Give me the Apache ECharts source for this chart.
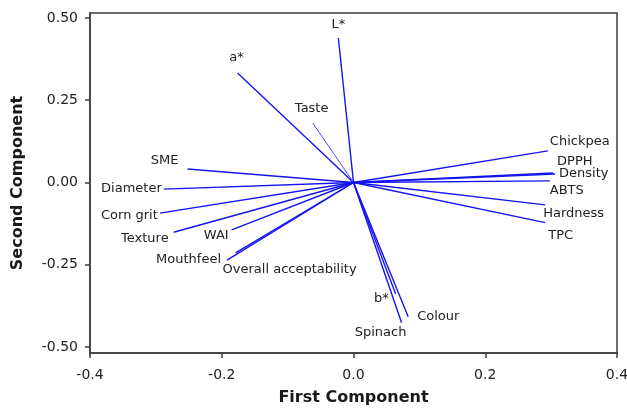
<!DOCTYPE html>
<html>
<head>
<meta charset="utf-8">
<script src="https://cdn.jsdelivr.net/npm/echarts@6/dist/echarts.min.js"></script>
<style>
  html, body { margin: 0; padding: 0; background: #fff; }
  #chart { width: 627px; height: 408px; }
</style>
</head>
<body>
<div id="chart"></div>
<script>
// loadings
const names = ["L*", "a*", "Taste", "SME", "Diameter", "Corn grit", "Texture", "WAI",
  "Mouthfeel", "Overall acceptability", "Chickpea", "DPPH", "Density", "ABTS",
  "Hardness", "TPC", "b*", "Spinach", "Colour"];
const pc1 = [-0.023, -0.176, -0.062, -0.252, -0.288, -0.294, -0.273, -0.185,
  -0.192, -0.179, 0.295, 0.303, 0.306, 0.298, 0.291, 0.291, 0.064, 0.073, 0.083];
const pc2 = [0.439, 0.333, 0.181, 0.041, -0.020, -0.093, -0.151, -0.144,
  -0.236, -0.214, 0.096, 0.029, 0.026, 0.005, -0.068, -0.122, -0.339, -0.426, -0.408];
const xTicks = [-0.4, -0.2, 0.0, 0.2, 0.4];
const yTicks = [-0.5, -0.25, 0, 0.25, 0.5];

// where each label sits relative to the end of its line: [align, dx, dy]
const labelPlace = {
  "L*": ["center", 0, -13],
  "a*": ["center", -1, -15],
  "Taste": ["center", -1, -14],
  "SME": ["right", -9, -8],
  "Diameter": ["right", -2, 0],
  "Corn grit": ["right", -2, 3],
  "Texture": ["right", -5, 6],
  "WAI": ["right", -3, 6],
  "Mouthfeel": ["right", -6, -1],
  "Overall acceptability": ["left", -13, 17],
  "Chickpea": ["left", 2, -9],
  "DPPH": ["left", 4, -11],
  "Density": ["left", 4, 0],
  "ABTS": ["left", 0, 10],
  "Hardness": ["left", -2, 9],
  "TPC": ["left", 3, 13],
  "b*": ["right", -7, 5],
  "Spinach": ["center", -21, 10],
  "Colour": ["left", 9, 0]
};

const font = "'DejaVu Sans', Verdana, sans-serif";
const chart = echarts.init(document.getElementById("chart"));

const option = {
  animation: false,
  grid: {
    left: 90, top: 13, right: 10, bottom: 55,
    outerBoundsMode: "none",
    containLabel: false,
    show: true, borderColor: "#3c3c3c", borderWidth: 1.5
  },
  xAxis: {
    type: "value",
    min: -0.4, max: 0.4, interval: 0.2,
    name: "First Component",
    nameLocation: "middle",
    nameGap: 37,
    nameTextStyle: { fontFamily: font, fontSize: 16, fontWeight: "bold", color: "#1a1a1a" },
    axisLine: { show: true, onZero: false, lineStyle: { color: "#3c3c3c", width: 1.5 } },
    axisTick: { show: true, length: 5, lineStyle: { color: "#3c3c3c", width: 1.5 } },
    axisLabel: {
      fontFamily: font, fontSize: 14, color: "#222", margin: 15,
      formatter: v => v.toFixed(1)
    },
    splitLine: { show: false }
  },
  yAxis: {
    type: "value",
    min: -0.518, max: 0.515,
    name: "Second Component",
    nameLocation: "middle",
    nameGap: 64,
    nameTextStyle: { fontFamily: font, fontSize: 16, fontWeight: "bold", color: "#1a1a1a" },
    axisLine: { show: true, onZero: false, lineStyle: { color: "#3c3c3c", width: 1.5 } },
    axisTick: { show: true, length: 5, customValues: yTicks, lineStyle: { color: "#3c3c3c", width: 1.5 } },
    axisLabel: {
      fontFamily: font, fontSize: 14, color: "#222", margin: 12,
      customValues: yTicks,
      formatter: v => v.toFixed(2)
    },
    splitLine: { show: false }
  },
  series: [{
    type: "custom",
    coordinateSystem: "cartesian2d",
    data: names.map((n, i) => [pc1[i], pc2[i], i]),
    renderItem: function (params, api) {
      const i = api.value(2);
      const o = api.coord([0, 0]);
      const e = api.coord([api.value(0), api.value(1)]);
      const p = labelPlace[names[i]];
      const thin = names[i] === "Taste";
      return {
        type: "group",
        children: [{
          type: "line",
          shape: { x1: o[0], y1: o[1], x2: e[0], y2: e[1] },
          style: { stroke: thin ? "#4a4aff" : "#1414f0", lineWidth: thin ? 1 : 1.4 }
        }, {
          type: "text",
          x: e[0] + p[1],
          y: e[1] + p[2],
          style: {
            text: names[i],
            fontFamily: font,
            fontSize: 13,
            fill: "#222",
            align: p[0],
            verticalAlign: "middle"
          }
        }]
      };
    }
  }]
};

chart.setOption(option);
</script>
</body>
</html>
